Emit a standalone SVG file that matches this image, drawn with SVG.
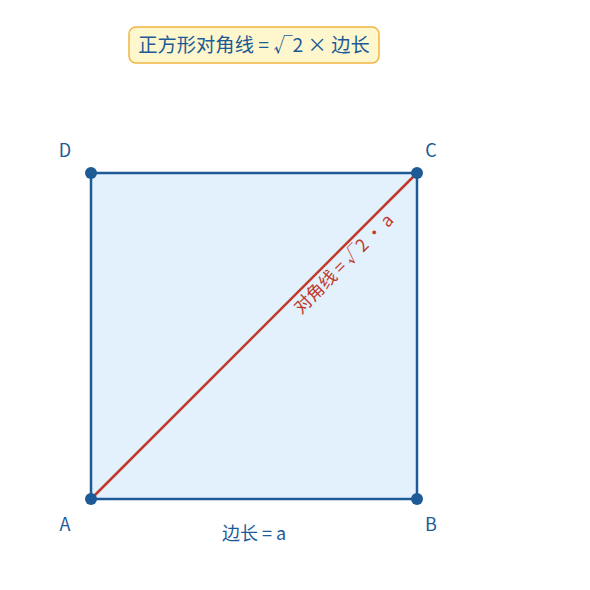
<svg xmlns="http://www.w3.org/2000/svg" width="590" height="590" viewBox="0 0 590 590">
<style>
text{font-family:"Noto Sans CJK SC","Noto Sans",sans-serif;font-size:18px;fill:#1d5a96}
.lbl{text-anchor:middle}
.dot{fill:#1d5a96}
</style>
<rect width="590" height="590" fill="#fff"/>
<g id="title">
<rect x="129" y="27" width="250" height="36" rx="7" fill="#fef7cd" stroke="#f2b540" stroke-width="1.5"/>
<text class="lbl" x="254" y="52" style="font-size:19.3px">正方形对角线 = √2 × 边长</text>
</g>
<g id="square">
<rect x="91" y="173" width="326" height="326" fill="#e3f1fc" stroke="#1d5a96" stroke-width="2.5"/>
</g>
<g id="connectors">
<line x1="91" y1="499" x2="417" y2="173" stroke="#c0392b" stroke-width="2.5"/>
</g>
<g id="diag-label">
<text class="lbl" style="fill:#c0392b;font-size:17.5px" transform="translate(348,268) rotate(-45)">对角线 = √2 · a</text>
</g>
<g id="A"><circle class="dot" cx="91" cy="499" r="6"/><text class="lbl" x="65" y="531">A</text></g>
<g id="B"><circle class="dot" cx="417" cy="499" r="6"/><text class="lbl" x="431" y="531">B</text></g>
<g id="C"><circle class="dot" cx="417" cy="173" r="6"/><text class="lbl" x="431" y="157">C</text></g>
<g id="D"><circle class="dot" cx="91" cy="173" r="6"/><text class="lbl" x="65" y="157">D</text></g>
<g id="side-label"><text class="lbl" x="254" y="540">边长 = a</text></g>
</svg>
